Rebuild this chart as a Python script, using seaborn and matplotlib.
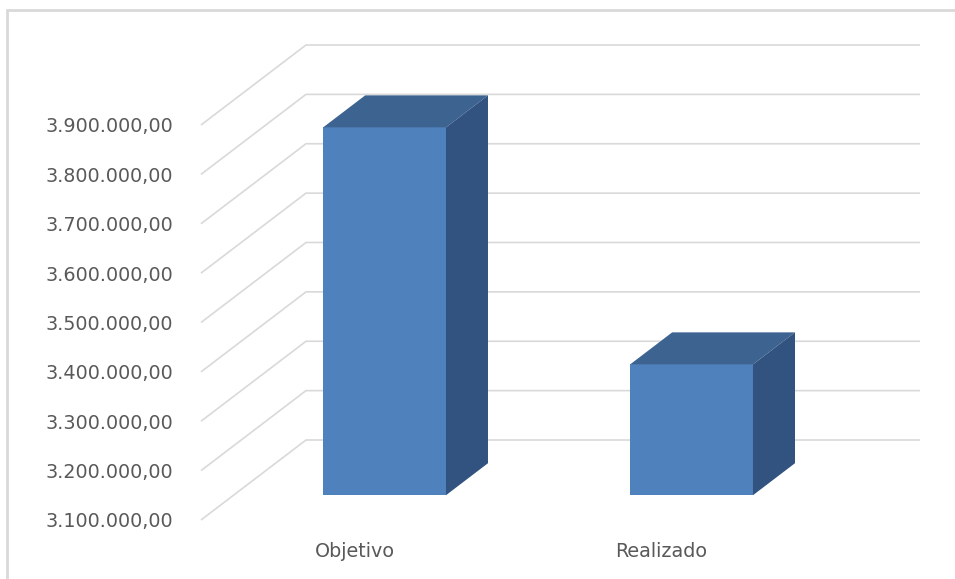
import numpy as np
import pandas as pd
import matplotlib.pyplot as plt
from matplotlib.patches import Polygon
from matplotlib.lines import Line2D
import seaborn as sns

# values
categories = ["Objetivo", "Realizado"]
values = [3845000, 3365000]
yticks = [3100000, 3200000, 3300000, 3400000, 3500000, 3600000, 3700000, 3800000, 3900000]

FRONT = "#4F81BD"
TOP = "#3D6491"
SIDE = "#325380"
GRID = "#D9D9D9"
TEXT = "#595959"

# fake 3d: depth shift in data units (~105 px right, ~80 px up)
DX = 0.342
DY = 162000
D_FRONT, D_BACK = 0.31, 0.71
BASE = yticks[0]
YMAX = yticks[-1]

sns.set_style("white")
plt.rcParams["font.family"] = ["DejaVu Sans"]

fig = plt.figure(figsize=(9.55, 5.79), dpi=100)
ax = fig.add_axes([201 / 955, 59 / 579, 719 / 955, 475 / 579])

df = pd.DataFrame({"cat": categories, "val": values})
sns.barplot(data=df, x="cat", y="val", color=FRONT, width=0.4, saturation=1,
            linewidth=0, ax=ax, zorder=3)

ax.set_xlim(-0.5, 1.5 + DX)
ax.set_ylim(BASE, YMAX + DY)

# back wall / left wall gridlines
for t in yticks:
    ax.plot([-0.5, -0.5 + DX, 1.5 + DX], [t, t + DY, t + DY],
            color=GRID, lw=1.2, zorder=1, solid_capstyle="butt", clip_on=False)

# move front faces back and add top and side faces
dd = D_BACK - D_FRONT
for p, v in zip(ax.patches, values):
    x0 = p.get_x() + D_FRONT * DX - 0.008
    w = p.get_width()
    y0 = BASE + D_FRONT * DY
    y1 = v + D_FRONT * DY
    p.set_x(x0)
    p.set_y(y0)
    p.set_height(y1 - y0)
    x1 = x0 + w
    top = Polygon([(x0, y1), (x1, y1), (x1 + dd * DX, y1 + dd * DY), (x0 + dd * DX, y1 + dd * DY)],
                  closed=True, facecolor=TOP, edgecolor="none", zorder=3)
    side = Polygon([(x1, y0), (x1, y1), (x1 + dd * DX, y1 + dd * DY), (x1 + dd * DX, y0 + dd * DY)],
                   closed=True, facecolor=SIDE, edgecolor="none", zorder=3)
    ax.add_patch(top)
    ax.add_patch(side)

ax.set_yticks(yticks)
ax.set_yticklabels([f"{t:,.2f}".replace(",", "X").replace(".", ",").replace("X", ".") for t in yticks])
ax.set_xticks([0, 1])
ax.set_xticklabels(categories)
ax.tick_params(axis="y", length=0, pad=20, labelsize=13.8, labelcolor=TEXT)
ax.tick_params(axis="x", length=0, pad=16, labelsize=13.8, labelcolor=TEXT)
ax.set_xlabel("")
ax.set_ylabel("")
for s in ax.spines.values():
    s.set_visible(False)
ax.grid(False)

# chart border (only left and top visible in the crop)
fig.add_artist(Line2D([7 / 955, 7 / 955], [0, 1 - 10 / 579], transform=fig.transFigure, color=GRID, lw=2))
fig.add_artist(Line2D([7 / 955, 1], [1 - 10 / 579, 1 - 10 / 579], transform=fig.transFigure, color=GRID, lw=2))

fig.savefig("out.png", dpi=100)
